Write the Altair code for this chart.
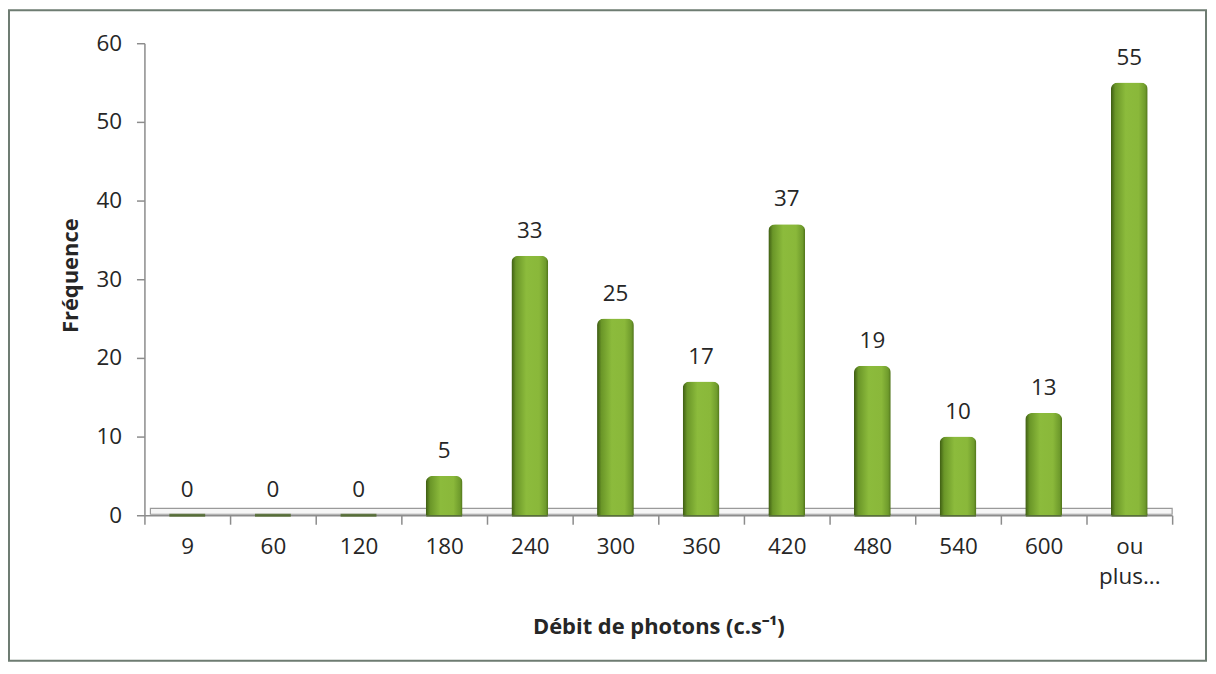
import altair as alt
import pandas as pd

categories = ["9", "60", "120", "180", "240", "300", "360", "420", "480", "540", "600", "ou plus..."]
frequencies = [0, 0, 0, 5, 33, 25, 17, 37, 19, 10, 13, 55]

df = pd.DataFrame({"cat": categories, "freq": frequencies})

W, H = 1032, 474
FONT = "Open Sans"
TXT = "#262626"
AXC = "#8c8c8c"

xenc = alt.X(
    "cat:N", sort=categories,
    scale=alt.Scale(paddingInner=0, paddingOuter=0),
    axis=alt.Axis(
        title="Débit de photons (c.s⁻¹)",
        labelAngle=0, tickBand="extent", tickSize=9, tickColor=AXC, domainColor=AXC,
        domainWidth=1.5, tickWidth=1.5,
        labelPadding=11, labelFontSize=22.5, labelFont=FONT, labelColor=TXT,
        labelExpr="datum.value == 'ou plus...' ? ['ou', 'plus...'] : datum.label",
        labelLineHeight=31,
        titleFont=FONT, titleFontSize=22, titleFontWeight="bold", titleColor=TXT,
        titleX=W / 2, titleY=112, titleBaseline="middle", titleAlign="center",
    ),
)
yenc = alt.Y(
    "freq:Q",
    scale=alt.Scale(domain=[0, 60]),
    axis=alt.Axis(
        title="Fréquence", values=[0, 10, 20, 30, 40, 50, 60], grid=False,
        tickSize=8, tickColor=AXC, domainColor=AXC, domainWidth=1.5, tickWidth=1.5,
        labelPadding=15, labelFontSize=22.5, labelFont=FONT, labelColor=TXT,
        titleFont=FONT, titleFontSize=22, titleFontWeight="bold", titleColor=TXT,
        titleX=-74, titleY=H / 2 - 4, titleAngle=270, titleBaseline="middle", titleAlign="center",
    ),
)

base = alt.Chart(df)

frame = alt.Chart(pd.DataFrame({"a": [0]})).mark_rect(
    fillOpacity=0, stroke="#6e7c72", strokeWidth=2
).encode(
    x=alt.value(-136), x2=alt.value(W + 34),
    y=alt.value(-33), y2=alt.value(H + 146),
)

floor = alt.Chart(pd.DataFrame({"a": [0]})).mark_rect(
    fill="#f6f6f6", stroke="#9a9a9a", strokeWidth=1.2
).encode(
    x=alt.value(6), x2=alt.value(W),
    y=alt.value(H - 7), y2=alt.value(H - 1),
)

grad = alt.Gradient(
    gradient="linear", x1=0, x2=1, y1=0, y2=0,
    stops=[
        alt.GradientStop(color="#3c5a12", offset=0),
        alt.GradientStop(color="#6a9628", offset=0.12),
        alt.GradientStop(color="#8cbb3c", offset=0.4),
        alt.GradientStop(color="#8ab83a", offset=0.75),
        alt.GradientStop(color="#6f9b2c", offset=0.93),
        alt.GradientStop(color="#4e7119", offset=1),
    ],
)

bases = base.mark_tick(color="#3f5e16", thickness=3, size=36).encode(
    x=xenc, y=alt.datum(0)
)

bars = base.mark_bar(
    size=37, color=grad, cornerRadiusTopLeft=7, cornerRadiusTopRight=7
).encode(x=xenc, y=yenc)

labels = base.mark_text(
    baseline="alphabetic", dy=-18, fontSize=22.5, font=FONT, color=TXT
).encode(x=xenc, y=yenc, text="freq:Q")

chart = alt.layer(frame, floor, bases, bars, labels).properties(
    width=W, height=H,
    background="white",
    autosize=alt.AutoSizeParams(type="none"),
    padding={"left": 137, "top": 34, "right": 36, "bottom": 148},
).configure_view(strokeWidth=0, stroke="transparent")

chart.save("out.html", embed_options={"renderer": "svg", "actions": False})
